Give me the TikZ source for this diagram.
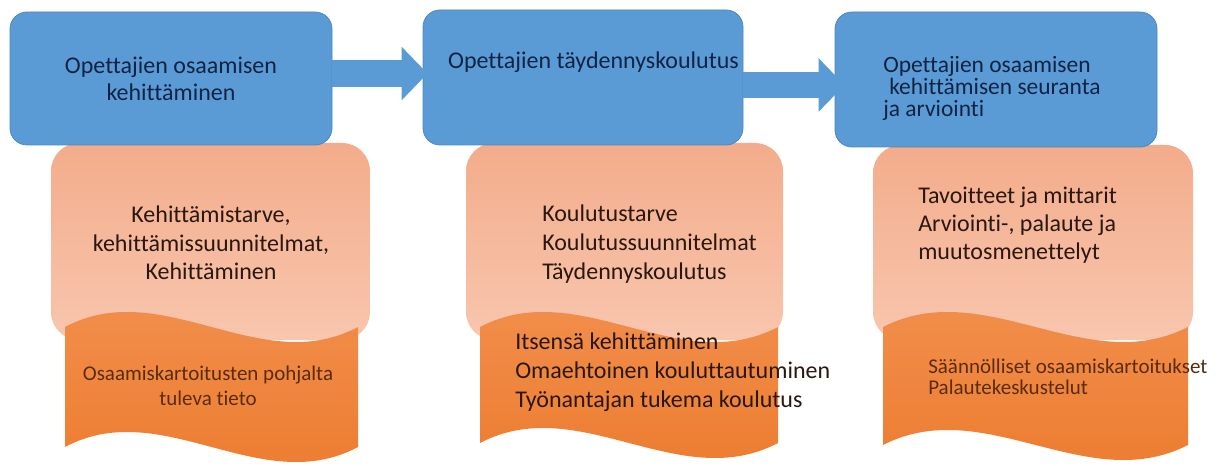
\documentclass[tikz,border=0pt]{standalone}
\usepackage{fontspec}
\setmainfont{Carlito}[Ligatures={NoCommon,NoContextual}]
\usetikzlibrary{arrows.meta}
\definecolor{boxblue}{HTML}{5B9BD5}
\definecolor{boxedge}{HTML}{4A87C2}
\definecolor{navy}{HTML}{0F2444}
\definecolor{salmonTop}{HTML}{F3AC8B}
\definecolor{salmonBot}{HTML}{F8C6AE}
\definecolor{orangeTop}{HTML}{F29150}
\definecolor{orangeBot}{HTML}{EC7A2C}
\definecolor{inkA}{HTML}{2A1810}
\definecolor{inkB}{HTML}{5A2C0C}
\begin{document}
\begin{tikzpicture}[x=0.75pt,y=-0.75pt,
  bluebox/.style={draw=boxedge, line width=0.6pt, fill=boxblue, rounded corners=12.75pt, inner sep=0pt},
  fatarrow/.style={draw=boxblue, line width=19.9pt, -{Triangle[length=19.5pt,width=39pt]}},
  bluetxt/.style={text=navy, inner sep=0pt, font=\fontsize{18}{20.25}\selectfont},
  otxt/.style={text=inkA, inner sep=0pt},
  otxtb/.style={text=inkB, inner sep=0pt},
  lightpart/.style={top color=salmonTop, bottom color=salmonBot, rounded corners=21pt},
  darkpart/.style={top color=orangeTop, bottom color=orangeBot}
]
\useasboundingbox (0,0) rectangle (1219,466);

% orange shapes
\shade[lightpart] (51,143) rectangle (370,340);
\shade[darkpart] (65,327) .. controls (162.7,275) and (260.3,379) .. (358,327)
  -- (358,447) .. controls (260.3,499) and (162.7,395) .. (65,447) -- cycle;

\shade[lightpart] (466,143) rectangle (783,340);
\shade[darkpart] (480,327) .. controls (579.3,275) and (678.7,379) .. (778,327)
  -- (778,443) .. controls (678.7,495) and (579.3,391) .. (480,443) -- cycle;

\shade[lightpart] (873,145) rectangle (1193,340);
\shade[darkpart] (883,327) .. controls (984.7,275) and (1086.3,379) .. (1188,327)
  -- (1188,445) .. controls (1086.3,497) and (984.7,393) .. (883,445) -- cycle;

% blue boxes
\node[bluebox, minimum width=241.5pt, minimum height=99.75pt] (b1) at (171,78.5) {};
\node[bluebox, minimum width=240pt, minimum height=101.25pt] (b2) at (583,77.5) {};
\node[bluebox, minimum width=241.5pt, minimum height=101.25pt] (b3) at (996,79.5) {};

% arrows
\coordinate (a1) at (0,73.5);
\coordinate (a2) at (0,85);
\draw[fatarrow, shorten >=-3.75pt] (b1.east |- a1) -- (b2.west |- a1);
\draw[fatarrow, shorten >=-7.5pt] (b2.east |- a2) -- (b3.west |- a2);

% blue texts
\node[bluetxt, align=center] (t1) at (171,78.5) {Opettajien osaamisen\\kehittäminen};
\node[bluetxt] (t2) at (593.5,62) {Opettajien täydennyskoulutus};
\node[bluetxt, anchor=west, align=left, font=\fontsize{17.6}{16.6}\selectfont] (t3) at (883,88.5)
  {Opettajien osaamisen\\\hspace*{4.5pt}kehittämisen seuranta\\ja arviointi};

% orange texts
\node[otxt, align=center, font=\fontsize{18}{21.4}\selectfont] (s1a) at (211,243)
  {Kehittämistarve,\\kehittämissuunnitelmat,\\Kehittäminen};
\node[otxtb, align=center, font=\fontsize{15.75}{18.75}\selectfont] (s1b) at (208,385.5)
  {Osaamiskartoitusten pohjalta\\tuleva tieto};
\node[otxt, anchor=west, align=left, font=\fontsize{18}{21.75}\selectfont] (s2a) at (542,244.3)
  {Koulutustarve\\Koulutussuunnitelmat\\Täydennyskoulutus};
\node[otxt, anchor=west, align=left, font=\fontsize{18}{22}\selectfont] (s2b) at (515,372.3)
  {Itsensä kehittäminen\\Omaehtoinen kouluttautuminen\\Työnantajan tukema koulutus};
\node[otxt, anchor=west, align=left, font=\fontsize{18}{21}\selectfont] (s3a) at (918,225)
  {Tavoitteet ja mittarit\\Arviointi-, palaute ja\\muutosmenettelyt};
\node[otxtb, anchor=west, align=left, font=\fontsize{15.75}{15.6}\selectfont] (s3b) at (928,377)
  {Säännölliset osaamiskartoitukset\\Palautekeskustelut};
\end{tikzpicture}
\end{document}
